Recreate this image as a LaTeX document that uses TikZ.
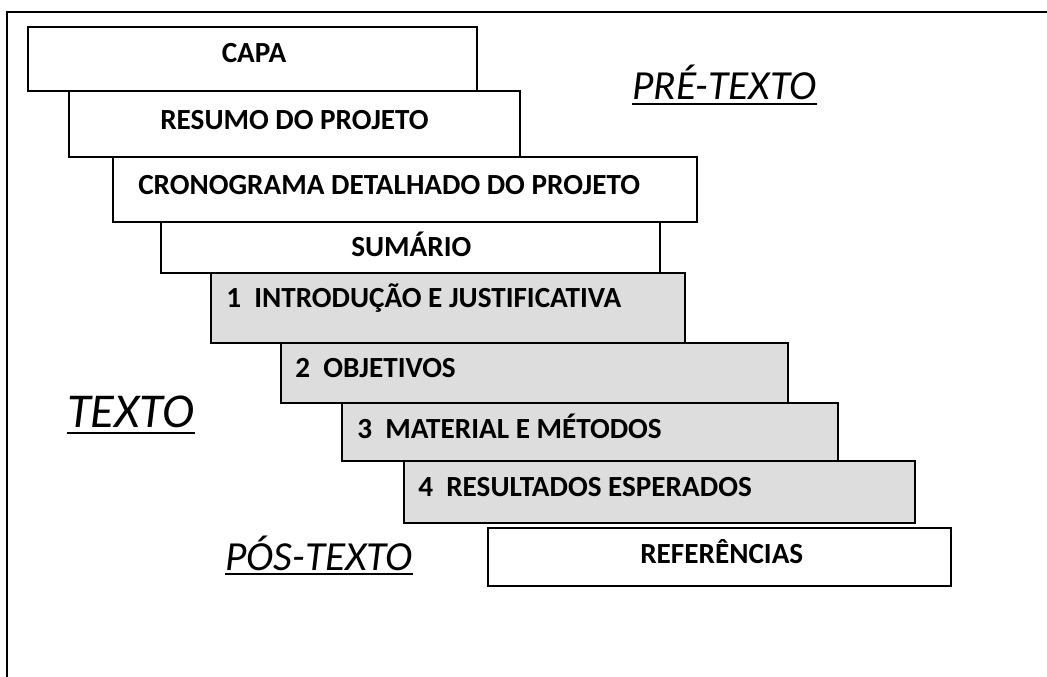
\documentclass[tikz,border=0pt]{standalone}
\usepackage{fontspec}
\setmainfont{Carlito}
\usetikzlibrary{fit}
\definecolor{boxgray}{RGB}{221,221,221}
\tikzset{
  px/.style={x=0.75pt,y=-0.75pt},
  stepbox/.style={draw=black, line width=1.3pt, fill=white, inner sep=0pt},
  graybox/.style={stepbox, fill=boxgray},
  boxtext/.style={inner sep=0pt, font=\fontsize{21.9}{26}\selectfont\bfseries},
  partlabel/.style={inner sep=0pt, font=\fontsize{31}{36}\selectfont\itshape},
  biglabel/.style={inner sep=0pt, font=\fontsize{36.5}{42}\selectfont\itshape},
  uline/.style={line width=1.5pt},
  framestyle/.style={line width=1.3pt}
}
\begin{document}
\begin{tikzpicture}[px]
\useasboundingbox (0,0) rectangle (1047,677);
% frame
\draw[framestyle] (7,677) -- (7,12) -- (1047,12);
% boxes
\node[stepbox, fit={(28,27)(477,91)}] (capa) {};
\node[stepbox, fit={(69,91)(520,157)}] (resumo) {};
\node[stepbox, fit={(113,157)(697,222)}] (crono) {};
\node[stepbox, fit={(161,222)(660,273)}] (sumario) {};
\node[graybox, fit={(211,273)(685,343)}] (intro) {};
\node[graybox, fit={(281,343)(788,403)}] (objet) {};
\node[graybox, fit={(342,403)(838,461)}] (mater) {};
\node[graybox, fit={(404,461)(915,523)}] (result) {};
\node[stepbox, fit={(488,528)(951,586)}] (refer) {};
% box texts
\node[boxtext, anchor=base] (capaT) at (254,63) {CAPA};
\node[boxtext, anchor=base west] (resumoT) at (160,130) {RESUMO DO PROJETO};
\node[boxtext, anchor=base west] (cronoT) at (138,195) {CRONOGRAMA DETALHADO DO PROJETO};
\node[boxtext, anchor=base west] (sumarioT) at (351,257) {SUMÁRIO};
\node[boxtext, anchor=base west] (introT) at (226,308) {1\ \ INTRODUÇÃO E JUSTIFICATIVA};
\node[boxtext, anchor=base west] (objetT) at (295,378) {2\ \ OBJETIVOS};
\node[boxtext, anchor=base west] (materT) at (357,439) {3\ \ MATERIAL E MÉTODOS};
\node[boxtext, anchor=base west] (resultT) at (418,497) {4\ \ RESULTADOS ESPERADOS};
\node[boxtext, anchor=base west] (referT) at (640,563) {REFERÊNCIAS};
% part labels
\node[partlabel, anchor=base west] (pre) at (632,100) {PRÉ-TEXTO};
\node[biglabel, anchor=base west] (texto) at (67,428) {TEXTO};
\node[partlabel, anchor=base west] (pos) at (225,570) {PÓS-TEXTO};
\draw[uline] ([yshift=-3pt]pre.base west) -- ([yshift=-3pt]pre.base east);
\draw[uline] ([yshift=-3.6pt]texto.base west) -- ([yshift=-3.6pt]texto.base east);
\draw[uline] ([yshift=-3pt]pos.base west) -- ([yshift=-3pt]pos.base east);
\end{tikzpicture}
\end{document}
